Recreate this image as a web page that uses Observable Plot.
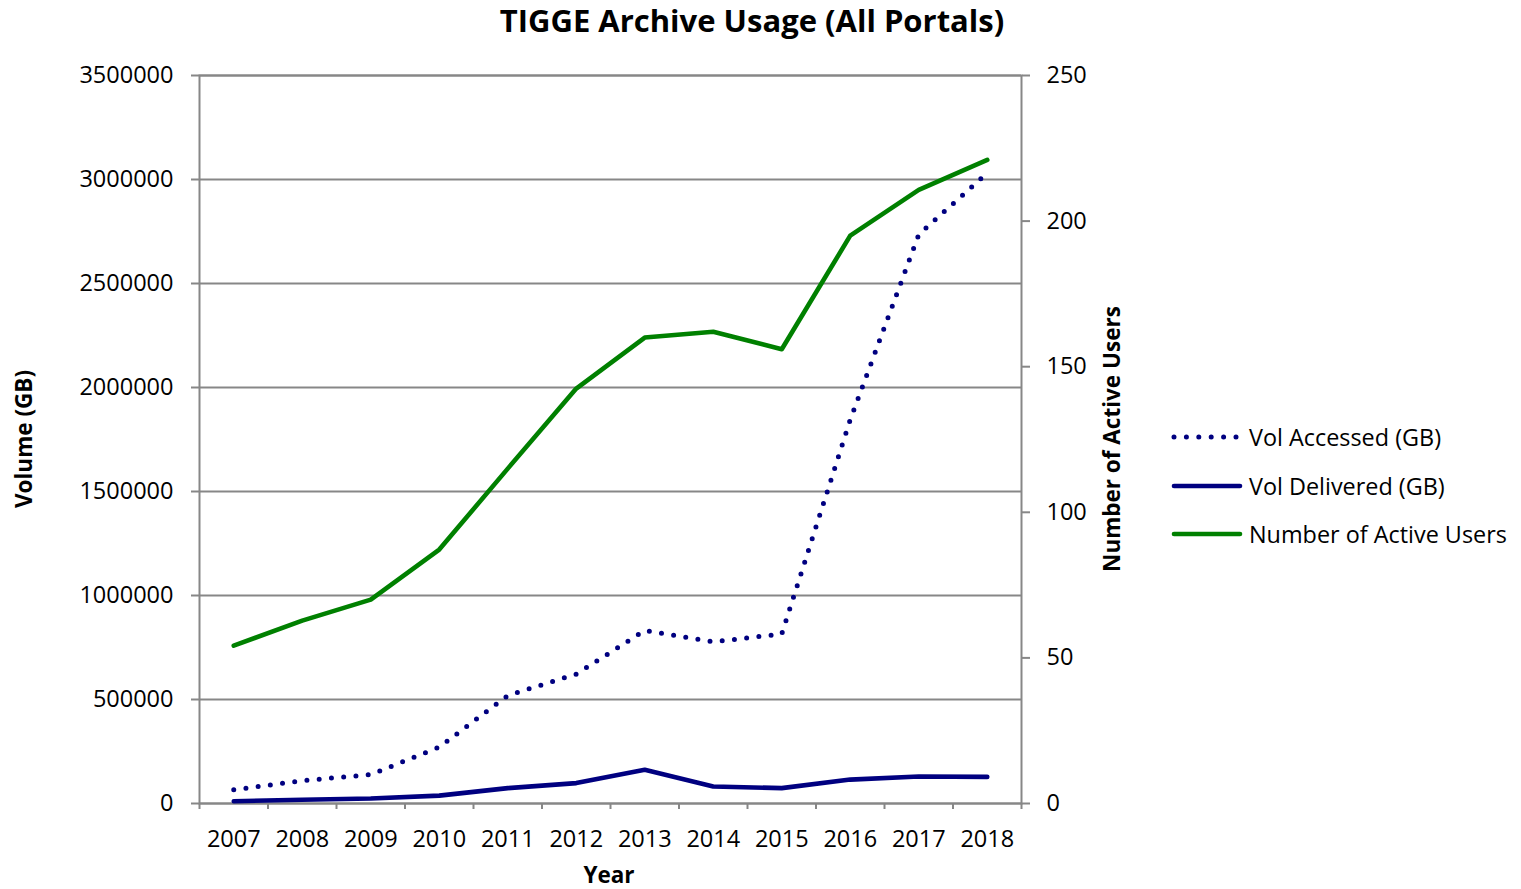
<!DOCTYPE html>
<html><head><meta charset="utf-8">
<script src="https://cdn.jsdelivr.net/npm/d3@7"></script>
<script src="https://cdn.jsdelivr.net/npm/@observablehq/plot@0.6"></script>
<style>
body{margin:0;background:#fff;font-family:"Open Sans",sans-serif;}
#wrap{position:relative;width:1521px;height:889px;overflow:hidden;}
#title{position:absolute;left:0;top:-1px;width:1504px;text-align:center;font-weight:bold;font-size:31px;line-height:42px;}
#chart{position:absolute;left:0;top:45px;}
.alabel{position:absolute;font-weight:bold;font-size:22.5px;line-height:1.05;white-space:nowrap;}
#legend{position:absolute;left:1170px;top:413px;font-size:23.4px;}
.lrow{display:flex;align-items:center;height:48.5px;}
.lrow svg{margin-right:5px;}
</style></head>
<body><div id="wrap">
<div id="title">TIGGE Archive Usage (All Portals)</div>
<div id="chart"></div>
<div class="alabel" id="ylab" style="left:24px;top:439px;transform:translate(-50%,-50%) rotate(-90deg);">Volume (GB)</div>
<div class="alabel" id="y2lab" style="left:1112px;top:439px;transform:translate(-50%,-50%) rotate(-90deg);">Number of Active Users</div>
<div class="alabel" id="xlab" style="left:609px;top:875px;transform:translate(-50%,-50%);">Year</div>
<div id="legend"></div>
</div>
<script>
const years = [2007, 2008, 2009, 2010, 2011, 2012, 2013, 2014, 2015, 2016, 2017, 2018];
const volAccessed = [66000, 110000, 139000, 271000, 519000, 622000, 832000, 777000, 815000, 1845000, 2735000, 3032000];
const volDelivered = [11000, 18000, 24000, 38000, 74000, 98000, 162000, 82000, 74000, 115000, 130000, 128000];
const activeUsers = [54.2, 62.8, 70, 87.2, 115, 142.5, 160, 162, 156, 195, 210.7, 221];
const volTicks = [0, 500000, 1000000, 1500000, 2000000, 2500000, 3000000, 3500000];
const userTicks = [0, 50, 100, 150, 200, 250];
const seriesNames = ["Vol Accessed (GB)", "Vol Delivered (GB)", "Number of Active Users"];
const navy = "#000080", green = "#008000", gray = "#878787";

const volMax = volTicks[volTicks.length - 1];
const userMax = userTicks[userTicks.length - 1];
const k = volMax / userMax;

const data = years.map((yr, i) => ({year: yr, accessed: volAccessed[i], delivered: volDelivered[i], users: activeUsers[i] * k}));
const boundaries = years.map(y => y - 0.5).concat([years[years.length - 1] + 0.5]);

const chart = Plot.plot({
  width: 1521, height: 844,
  marginLeft: 199, marginRight: 500, marginTop: 30, marginBottom: 86,
  x: {domain: [boundaries[0], boundaries[boundaries.length - 1]]},
  y: {domain: [0, volMax]},
  style: {fontFamily: "'Open Sans', sans-serif", fontSize: "23.5px", color: "#000", background: "white", overflow: "visible"},
  marks: [
    Plot.gridY({ticks: volTicks, stroke: gray, strokeOpacity: 1, strokeWidth: 2}),
    Plot.frame({stroke: gray, strokeWidth: 2}),
    Plot.axisY({ticks: volTicks, tickSize: 8, tickPadding: 18, tickFormat: d => String(d), label: null, stroke: gray, strokeWidth: 2, strokeOpacity: 1}),
    Plot.axisY({anchor: "right", ticks: userTicks.map(u => u * k), tickSize: 8, tickPadding: 17, tickFormat: d => String(Math.round(d / k)), label: null, stroke: gray, strokeWidth: 2, strokeOpacity: 1}),
    Plot.axisX({ticks: boundaries, tickSize: 6, tickFormat: () => "", label: null, stroke: gray, strokeWidth: 2, strokeOpacity: 1}),
    Plot.axisX({ticks: years, tickSize: 0, tickPadding: 27, tickFormat: d => String(d), label: null}),
    Plot.line(data, {x: "year", y: "users", stroke: green, strokeWidth: 4.6}),
    Plot.line(data, {x: "year", y: "delivered", stroke: navy, strokeWidth: 4.6}),
    Plot.line(data, {x: "year", y: "accessed", stroke: navy, strokeWidth: 5, strokeDasharray: "0 12.3", strokeLinecap: "round"})
  ]
});
document.getElementById("chart").appendChild(chart);

const styles = [
  {stroke: navy, dash: "0 12.4", width: 5},
  {stroke: navy, dash: null, width: 4.6},
  {stroke: green, dash: null, width: 4.6}
];
const legend = document.getElementById("legend");
seriesNames.forEach((name, i) => {
  const s = styles[i];
  const row = document.createElement("div");
  row.className = "lrow";
  row.innerHTML = `<svg width="74" height="10"><line x1="4" y1="5" x2="${s.dash ? 68 : 70}" y2="5" stroke="${s.stroke}" stroke-width="${s.width}" stroke-linecap="round" ${s.dash ? `stroke-dasharray="${s.dash}"` : ""}/></svg><span>${name}</span>`;
  legend.appendChild(row);
});
</script>
</body></html>
